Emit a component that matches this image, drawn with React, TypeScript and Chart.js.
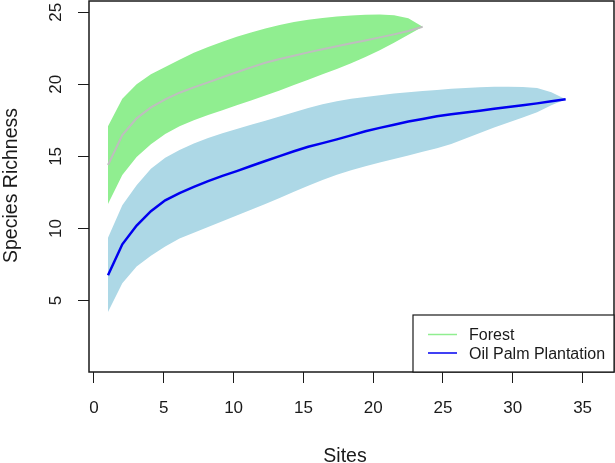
import React, { useEffect, useRef } from "react";
import { Chart, registerables } from "chart.js";

Chart.register(...registerables);

// ---------- data ----------
const forestSites = [1, 2, 3, 4, 5, 6, 7, 8, 9, 10, 11, 12, 13, 14, 15, 16, 17, 18, 19, 20, 21, 22, 23];
const forestMean = [14.4, 16.48, 17.64, 18.4, 18.96, 19.42, 19.79, 20.14, 20.49, 20.84, 21.18, 21.5, 21.76, 21.99, 22.22, 22.43, 22.64, 22.85, 23.05, 23.26, 23.47, 23.7, 24.0];
const forestUpper = [17.1, 19.0, 20.0, 20.7, 21.2, 21.7, 22.2, 22.6, 22.95, 23.3, 23.6, 23.88, 24.12, 24.32, 24.48, 24.61, 24.71, 24.78, 24.83, 24.84, 24.8, 24.58, 24.0];
const forestLower = [11.7, 13.7, 14.95, 15.85, 16.55, 17.1, 17.5, 17.87, 18.2, 18.55, 18.88, 19.22, 19.58, 19.95, 20.32, 20.7, 21.07, 21.46, 21.9, 22.37, 22.88, 23.45, 24.0];

const oilSites = [1, 2, 3, 4, 5, 6, 7, 8, 9, 10, 11, 12, 13, 14, 15, 16, 17, 18, 19, 20, 21, 22, 23, 24, 25, 26, 27, 28, 29, 30, 31, 32, 33];
const oilMean = [6.75, 8.9, 10.2, 11.2, 11.95, 12.45, 12.88, 13.28, 13.65, 13.98, 14.33, 14.68, 15.02, 15.36, 15.67, 15.92, 16.18, 16.46, 16.74, 16.98, 17.2, 17.42, 17.6, 17.78, 17.92, 18.04, 18.17, 18.3, 18.43, 18.55, 18.68, 18.82, 18.97];
const oilUpper = [9.35, 11.6, 13.0, 14.15, 14.9, 15.45, 15.9, 16.28, 16.6, 16.9, 17.2, 17.48, 17.77, 18.06, 18.35, 18.62, 18.83, 19.0, 19.13, 19.25, 19.36, 19.45, 19.53, 19.61, 19.69, 19.75, 19.8, 19.83, 19.84, 19.82, 19.74, 19.45, 18.97];
const oilLower = [4.2, 6.2, 7.35, 8.1, 8.75, 9.3, 9.7, 10.1, 10.5, 10.9, 11.3, 11.7, 12.12, 12.55, 12.97, 13.36, 13.72, 14.04, 14.32, 14.57, 14.82, 15.07, 15.32, 15.57, 15.86, 16.24, 16.63, 17.0, 17.35, 17.7, 18.06, 18.55, 18.97];

const xTicks = [0, 5, 10, 15, 20, 25, 30, 35];
const yTicks = [5, 10, 15, 20, 25];
const seriesNames = ["Forest", "Oil Palm Plantation"];
const xTitle = "Sites";
const yTitle = "Species Richness";

const FONT = "'Liberation Sans', Arial, Helvetica, sans-serif";
const FOREST_BAND = "#90EE90";
const FOREST_LINE = "#BEBEBE";
const OIL_BAND = "#ADD8E6";
const OIL_LINE = "#0000F0";
const INK = "#1a1a1a";

function pts(xs: number[], ys: number[]) {
  return xs.map((x, i) => ({ x, y: ys[i] }));
}

export default function App() {
  const ref = useRef<HTMLCanvasElement>(null);

  useEffect(() => {
    if (!ref.current) return;

    const decor = {
      id: "decor",
      afterDraw(chart: any) {
        const { ctx, chartArea: a, scales } = chart;
        ctx.save();
        // plot box
        ctx.strokeStyle = INK;
        ctx.lineWidth = 1.5;
        ctx.strokeRect(a.left, a.top, a.right - a.left, a.bottom - a.top);

        // y tick labels (rotated, R style)
        ctx.fillStyle = INK;
        ctx.font = `17px ${FONT}`;
        ctx.textAlign = "center";
        ctx.textBaseline = "middle";
        for (const v of yTicks) {
          const py = scales.y.getPixelForValue(v);
          ctx.save();
          ctx.translate(a.left - 32.5, py);
          ctx.rotate(-Math.PI / 2);
          ctx.fillText(String(v), 0, 0);
          ctx.restore();
        }

        // axis titles
        ctx.font = `19.5px ${FONT}`;
        ctx.textAlign = "center";
        ctx.textBaseline = "alphabetic";
        ctx.fillText(xTitle, 345, 462);
        ctx.save();
        ctx.translate(16.5, (a.top + a.bottom) / 2 - 1);
        ctx.rotate(-Math.PI / 2);
        ctx.fillText(yTitle, 0, 0);
        ctx.restore();

        // legend
        const lw = 201;
        const lh = 57;
        const lx = a.right - lw;
        const ly = a.bottom - lh;
        ctx.fillStyle = "#ffffff";
        ctx.fillRect(lx, ly, lw, lh);
        ctx.strokeStyle = INK;
        ctx.lineWidth = 1.2;
        ctx.strokeRect(lx, ly, lw, lh);
        const colors = [FOREST_BAND, OIL_LINE];
        ctx.font = `16px ${FONT}`;
        ctx.textAlign = "left";
        ctx.textBaseline = "middle";
        seriesNames.forEach((name, i) => {
          const yy = ly + 19.5 + i * 18.5;
          ctx.strokeStyle = colors[i];
          ctx.lineWidth = 1.5;
          ctx.beginPath();
          ctx.moveTo(lx + 15, yy);
          ctx.lineTo(lx + 44, yy);
          ctx.stroke();
          ctx.fillStyle = INK;
          ctx.fillText(name, lx + 56, yy + 1.5);
        });
        ctx.restore();
      },
    };

    const common = { xAxisID: "xs", yAxisID: "y", pointRadius: 0, tension: 0 };

    const chart = new Chart(ref.current, {
      type: "line",
      data: {
        datasets: [
          { ...common, order: 2, label: "forestUpper", data: pts(forestSites, forestUpper), borderWidth: 0, borderColor: FOREST_BAND, backgroundColor: FOREST_BAND, fill: "+1" },
          { ...common, order: 2, label: "forestLower", data: pts(forestSites, forestLower), borderWidth: 0, borderColor: FOREST_BAND, fill: false },
          { ...common, order: 2, label: "oilUpper", data: pts(oilSites, oilUpper), borderWidth: 0, borderColor: OIL_BAND, backgroundColor: OIL_BAND, fill: "+1" },
          { ...common, order: 2, label: "oilLower", data: pts(oilSites, oilLower), borderWidth: 0, borderColor: OIL_BAND, fill: false },
          { ...common, order: 0, label: seriesNames[0], data: pts(forestSites, forestMean), borderWidth: 2, borderColor: FOREST_LINE, fill: false },
          { ...common, order: 0, label: seriesNames[1], data: pts(oilSites, oilMean), borderWidth: 2.5, borderColor: OIL_LINE, fill: false },
        ],
      },
      options: {
        responsive: false,
        animation: false,
        events: [],
        layout: { padding: { top: 1, right: 1, left: 0, bottom: 0 } },
        plugins: { legend: { display: false }, tooltip: { enabled: false } },
        scales: {
          x: {
            type: "linear",
            position: "bottom",
            min: -0.358,
            max: 37.25,
            afterBuildTicks: (s: any) => {
              s.ticks = xTicks.map((value) => ({ value }));
            },
            afterFit: (s: any) => {
              s.height = 91;
            },
            grid: { drawOnChartArea: false, drawTicks: true, tickLength: 11, color: INK, lineWidth: 1 },
            border: { display: false },
            ticks: {
              color: INK,
              font: { family: FONT, size: 17 },
              padding: 15,
              maxRotation: 0,
              minRotation: 0,
              autoSkip: false,
              callback: (v: any) => String(v),
            },
          },
          xs: {
            type: "linear",
            display: false,
            min: -0.329,
            max: 36.38,
          },
          y: {
            type: "linear",
            position: "left",
            min: 0.035,
            max: 25.785,
            afterBuildTicks: (s: any) => {
              s.ticks = yTicks.map((value) => ({ value }));
            },
            afterFit: (s: any) => {
              s.width = 89;
            },
            grid: { drawOnChartArea: false, drawTicks: true, tickLength: 11, color: INK, lineWidth: 1 },
            border: { display: false },
            ticks: { display: false },
          },
        },
      },
      plugins: [decor],
    });

    return () => chart.destroy();
  }, []);

  return (
    <div style={{ position: "fixed", left: 0, top: 0, width: 615, height: 463, background: "#fff" }}>
      <canvas ref={ref} width={615} height={463} style={{ display: "block" }} />
    </div>
  );
}
